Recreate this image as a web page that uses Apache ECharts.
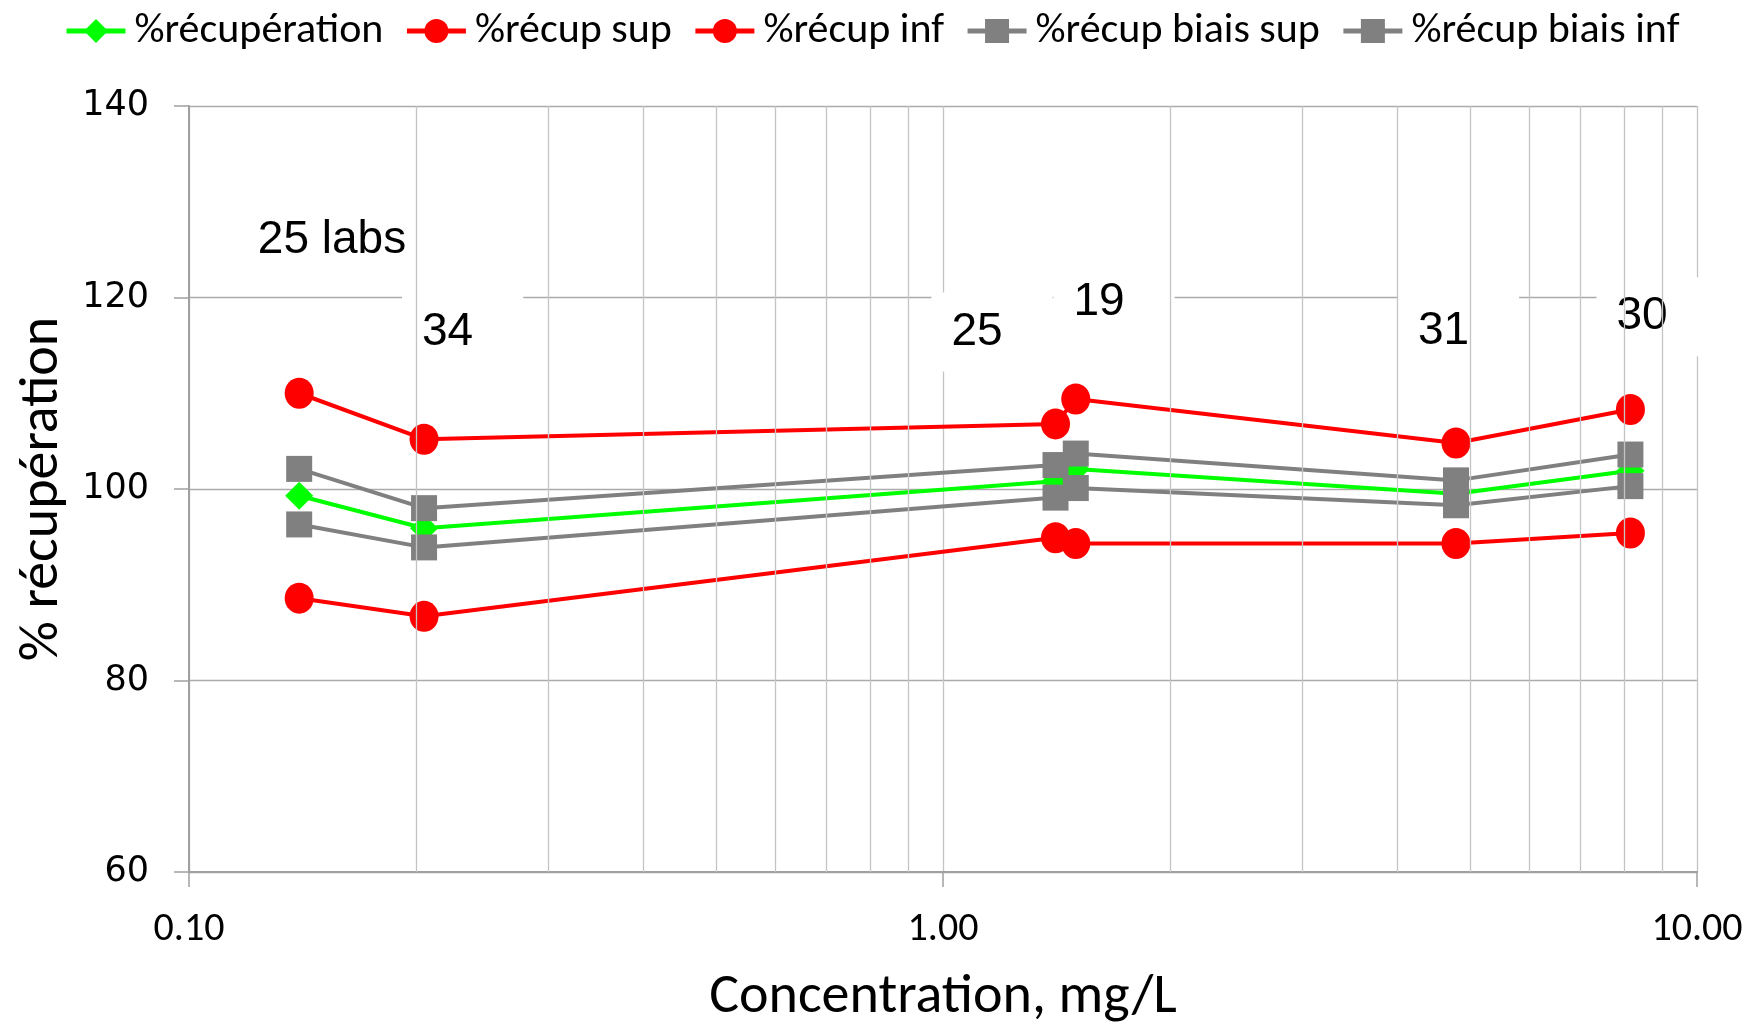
<!DOCTYPE html>
<html>
<head>
<meta charset="utf-8">
<script src="https://cdn.jsdelivr.net/npm/echarts@6/dist/echarts.min.js"></script>
<style>
html,body{margin:0;padding:0;background:#fff;}
#chart{width:1762px;height:1031px;}
</style>
</head>
<body>
<div id="chart"></div>
<script>
// ---- data ----
const conc      = [0.14, 0.205, 1.41, 1.50, 4.79, 8.16];          // Concentration, mg/L
const recup     = [99.3, 95.9, 100.8, 102.1, 99.5, 101.9];        // %récupération
const recupSup  = [110.0, 105.2, 106.8, 109.4, 104.8, 108.3];     // %récup sup
const recupInf  = [88.6, 86.7, 94.9, 94.3, 94.3, 95.4];           // %récup inf
const biaisSup  = [102.1, 98.0, 102.5, 103.7, 100.9, 103.6];      // %récup biais sup
const biaisInf  = [96.3, 93.9, 99.1, 100.1, 98.3, 100.3];         // %récup biais inf
const labText   = ['25 labs', '34', '25', '19', '31', '30'];      // number of labs
const labX      = [0.1620, 0.2306, 1.1614, 1.6860, 4.827, 8.851]; // annotation anchors (data units)
const labY      = [126.0, 116.4, 116.4, 119.5, 116.5, 118.0];
const yTicks    = [60, 80, 100, 120, 140];
const xTicks    = [0.1, 1, 10];
const xTickLabels = ['0.10', '1.00', '10.00'];
const minorGrid = [0.2, 0.3, 0.4, 0.5, 0.6, 0.7, 0.8, 0.9, 2, 3, 4, 5, 6, 7, 8, 9];
const names = ['%récupération', '%récup sup', '%récup inf', '%récup biais sup', '%récup biais inf'];

// ---- styles ----
const GREEN = '#00FF00', RED = '#FF0000', GRAY = '#808080';
const CAL = "Carlito, Lato, 'Noto Sans', sans-serif";
const legendWidths = [256, 200, 183, 294, 277];
const legendRich = {};
legendWidths.forEach((w, i) => {
  legendRich['w' + i] = { width: w, fontFamily: CAL, fontSize: 42, color: '#000', padding: [0, 0, 0, 4] };
});

function pairs(ys) { return conc.map((x, i) => [x, ys[i]]); }

const chart = echarts.init(document.getElementById('chart'), null, {renderer: 'canvas'});
const option = {
  animation: false,
  backgroundColor: '#ffffff',
  grid: { left: 189, right: 65, top: 106, bottom: 159, containLabel: false, outerBoundsMode: 'none' },
  legend: {
    top: 5, left: 59,
    itemWidth: 59, itemHeight: 30, itemGap: 21,
    lineStyle: { width: 5 },
    textStyle: { fontFamily: CAL, fontSize: 42, color: '#000', rich: legendRich },
    formatter: name => '{w' + names.indexOf(name) + '|' + name + '}',
    data: names
  },
  xAxis: {
    type: 'log', logBase: 10, min: 0.1, max: 10,
    name: 'Concentration, mg/L', nameLocation: 'middle', nameGap: 98,
    nameTextStyle: { fontFamily: CAL, fontSize: 56, color: '#000' },
    axisLine: { show: true, lineStyle: { color: '#A0A0A0', width: 2 } },
    axisTick: { show: true, length: 15, lineStyle: { color: '#A0A0A0', width: 1.5 } },
    axisLabel: {
      margin: 38, fontFamily: CAL, fontSize: 40, color: '#000',
      formatter: v => { const i = xTicks.findIndex(t => Math.abs(t - v) / t < 1e-6); return i >= 0 ? xTickLabels[i] : ''; }
    },
    splitLine: { show: true, lineStyle: { color: '#C4C4C4', width: 1.3 } }
  },
  yAxis: {
    type: 'value', min: 60, max: 140, interval: 20,
    name: '% récupération', nameLocation: 'middle', nameGap: 116, nameRotate: 90,
    nameTextStyle: { fontFamily: CAL, fontSize: 56, color: '#000' },
    axisLine: { show: true, lineStyle: { color: '#A0A0A0', width: 2 } },
    axisTick: { show: true, length: 15, lineStyle: { color: '#A0A0A0', width: 1.5 } },
    axisLabel: {
      margin: 40, fontFamily: "'DejaVu Sans', sans-serif", fontSize: 35, color: '#000',
      formatter: v => yTicks.includes(v) ? String(v) : ''
    },
    splitLine: { show: true, lineStyle: { color: '#ABABAB', width: 1.3 } }
  },
  series: [
    {
      name: 'minor-grid', type: 'line', data: [], z: 1, silent: true,
      markLine: {
        silent: true, symbol: ['none', 'none'], label: { show: false },
        lineStyle: { color: '#C4C4C4', width: 1.3, type: 'solid' },
        emphasis: { disabled: true },
        data: minorGrid.map(v => ({ xAxis: v }))
      }
    },
    {
      name: 'labs', type: 'scatter', z: 2, silent: true, clip: false,
      symbolSize: 1, itemStyle: { color: 'rgba(255,255,255,0)', opacity: 1 },
      data: labX.map((x, i) => [x, labY[i]]),
      label: {
        show: true, position: 'inside', opacity: 1,
        formatter: p => labText[p.dataIndex],
        fontFamily: "'Liberation Sans', Arial, sans-serif", fontSize: 46, lineHeight: 46, color: '#000000',
        backgroundColor: '#FFFFFF', padding: [17, 50, 16, 20]
      }
    },
    {
      name: names[0], type: 'line', z: 3, data: pairs(recup),
      symbol: 'diamond', symbolSize: 28, showAllSymbol: true,
      lineStyle: { color: GREEN, width: 4 }, itemStyle: { color: GREEN }
    },
    {
      name: names[1], type: 'line', z: 4, data: pairs(recupSup),
      symbol: 'circle', symbolSize: [29, 31], showAllSymbol: true,
      lineStyle: { color: RED, width: 4 }, itemStyle: { color: RED }
    },
    {
      name: names[2], type: 'line', z: 4, data: pairs(recupInf),
      symbol: 'circle', symbolSize: [29, 31], showAllSymbol: true,
      lineStyle: { color: RED, width: 4 }, itemStyle: { color: RED }
    },
    {
      name: names[3], type: 'line', z: 4, data: pairs(biaisSup),
      symbol: 'rect', symbolSize: 26, showAllSymbol: true,
      lineStyle: { color: GRAY, width: 4 }, itemStyle: { color: GRAY }
    },
    {
      name: names[4], type: 'line', z: 4, data: pairs(biaisInf),
      symbol: 'rect', symbolSize: 26, showAllSymbol: true,
      lineStyle: { color: GRAY, width: 4 }, itemStyle: { color: GRAY }
    }
  ]
};
chart.setOption(option);
</script>
</body>
</html>
